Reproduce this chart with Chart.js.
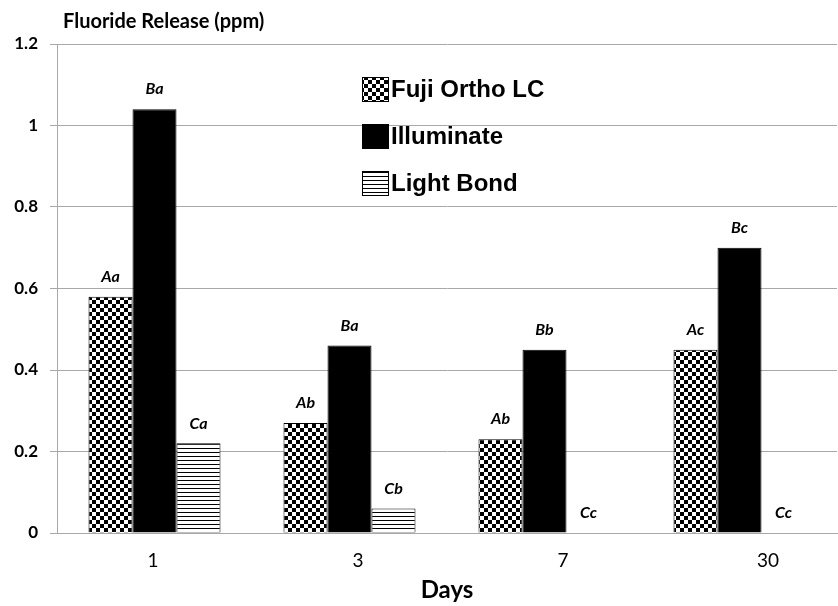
<!DOCTYPE html>
<html>
<head>
<meta charset="utf-8">
<script src="https://cdn.jsdelivr.net/npm/chart.js@4"></script>
<style>
  html, body { margin: 0; padding: 0; background: #fff; overflow: hidden; }
  #wrap { position: relative; width: 838px; height: 606px; }
</style>
</head>
<body>
<div id="wrap"><canvas id="chart"></canvas></div>
<script>
// Fluoride release by day, three adhesives
const days = ['1', '3', '7', '30'];
const seriesNames = ['Fuji Ortho LC', 'Illuminate', 'Light Bond'];
const fujiOrtho = [0.58, 0.27, 0.23, 0.45];
const illuminate = [1.04, 0.46, 0.45, 0.70];
const lightBond = [0.22, 0.06, 0, 0];
const fujiLetters = ['Aa', 'Ab', 'Ab', 'Ac'];
const illuminateLetters = ['Ba', 'Ba', 'Bb', 'Bc'];
const lightBondLetters = ['Ca', 'Cb', 'Cc', 'Cc'];
const yTicks = [0, 0.2, 0.4, 0.6, 0.8, 1, 1.2];

const gridGray = '#a8a8a8';

function checkerPattern() {
  const c = document.createElement('canvas');
  c.width = 8; c.height = 8;
  const g = c.getContext('2d');
  g.fillStyle = '#fff';
  g.fillRect(0, 0, 8, 8);
  g.fillStyle = '#000';
  g.fillRect(0, 0, 4, 4);
  g.fillRect(4, 4, 4, 4);
  return g.createPattern(c, 'repeat');
}

function stripePattern() {
  const c = document.createElement('canvas');
  c.width = 4; c.height = 4;
  const g = c.getContext('2d');
  g.fillStyle = '#fff';
  g.fillRect(0, 0, 4, 4);
  g.fillStyle = '#000';
  g.fillRect(0, 0, 4, 1);
  return g.createPattern(c, 'repeat');
}

const fills = [checkerPattern(), '#000', stripePattern()];

// letters above bars
const barLetters = {
  id: 'barLetters',
  afterDatasetsDraw(chart) {
    const ctx = chart.ctx;
    ctx.save();
    ctx.font = 'italic bold 16px Lato';
    ctx.fillStyle = '#000';
    ctx.textAlign = 'center';
    ctx.textBaseline = 'middle';
    chart.data.datasets.forEach((ds, di) => {
      chart.getDatasetMeta(di).data.forEach((bar, i) => {
        ctx.fillText(ds.letters[i], bar.x, bar.y - 20);
      });
    });
    ctx.restore();
  }
};

// legend box inside the plot + small top-left title
const sideText = {
  id: 'sideText',
  afterDraw(chart) {
    const ctx = chart.ctx;
    ctx.save();
    ctx.fillStyle = '#000';
    ctx.textBaseline = 'middle';
    ctx.textAlign = 'left';
    ctx.font = 'bold 20px Lato';
    ctx.fillText('Fluoride Release (ppm)', chart.chartArea.left + 6, 22);

    ctx.font = 'bold 24px "Liberation Sans"';
    chart.data.datasets.forEach((ds, i) => {
      const y = 77 + i * 47;
      ctx.fillStyle = ds.backgroundColor;
      ctx.fillRect(362, y, 27, 25);
      ctx.strokeStyle = '#000';
      ctx.lineWidth = 1;
      ctx.strokeRect(362.5, y + 0.5, 26, 24);
      ctx.fillStyle = '#000';
      ctx.fillText(ds.label, 391, y + 13);
    });
    ctx.restore();
  }
};

const datasets = [fujiOrtho, illuminate, lightBond].map((vals, i) => ({
  label: seriesNames[i],
  data: vals,
  letters: [fujiLetters, illuminateLetters, lightBondLetters][i],
  backgroundColor: fills[i],
  borderColor: '#000',
  borderWidth: 1,
  barPercentage: 1,
  categoryPercentage: 0.677
}));

new Chart(document.getElementById('chart'), {
  type: 'bar',
  data: { labels: days, datasets },
  options: {
    responsive: true,
    maintainAspectRatio: false,
    animation: false,
    layout: { padding: { top: 44, right: 1, left: 0, bottom: 0 } },
    plugins: {
      legend: { display: false },
      tooltip: { enabled: false }
    },
    scales: {
      x: {
        weight: 0,
        ticks: { display: false },
        grid: { display: false, drawTicks: false },
        border: { display: true, color: gridGray },
        afterFit(axis) { axis.height = 0; }
      },
      // day labels sit on their own axis, spaced a bit wider than the bar groups
      xl: {
        type: 'linear',
        position: 'bottom',
        axis: 'x',
        weight: 1,
        offset: false,
        bounds: 'data',
        min: -0.468,
        max: 3.337,
        afterBuildTicks(axis) { axis.ticks = days.map((d, i) => ({ value: i })); },
        afterFit(axis) { axis.height = 73; },
        ticks: {
          padding: 16,
          color: '#000',
          font: { family: 'Lato', size: 19 },
          callback: v => days[v]
        },
        grid: { display: false, drawTicks: false, offset: false },
        border: { display: false },
        title: {
          display: true,
          text: 'Days',
          color: '#000',
          font: { family: 'Lato', size: 24, weight: 'bold' },
          padding: { top: 2, bottom: 1 }
        }
      },
      y: {
        min: 0,
        max: 1.2,
        afterBuildTicks(axis) { axis.ticks = yTicks.map(v => ({ value: v })); },
        afterFit(axis) { axis.width = 57; },
        ticks: {
          padding: 12,
          color: '#000',
          font: { family: 'Lato', size: 17, weight: 'bold' },
          callback: v => String(Number(v.toFixed(1)))
        },
        grid: { color: gridGray, tickLength: 7, lineWidth: 1 },
        border: { display: true, color: gridGray }
      }
    }
  },
  plugins: [barLetters, sideText]
});
</script>
</body>
</html>
